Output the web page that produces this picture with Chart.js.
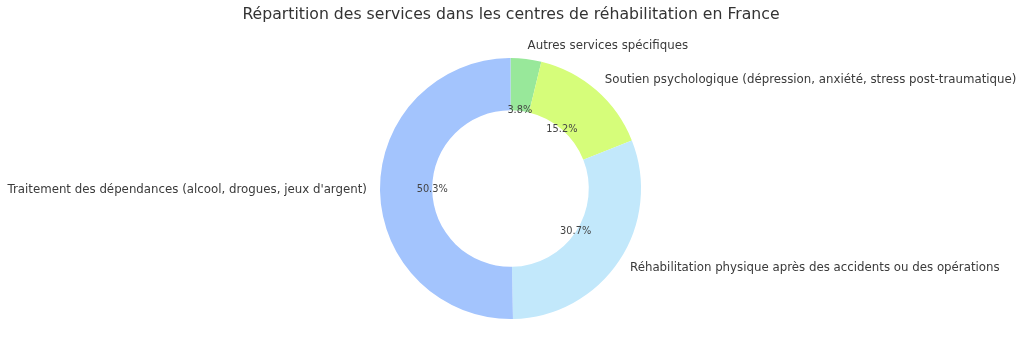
<!DOCTYPE html>
<html>
<head>
<meta charset="utf-8">
<script src="https://cdn.jsdelivr.net/npm/chart.js@4/dist/chart.umd.min.js"></script>
<style>
html,body{margin:0;padding:0;background:#fff;}
#wrap{width:1024px;height:359px;position:relative;}
</style>
</head>
<body>
<div id="wrap"><canvas id="c" width="1024" height="359"></canvas></div>
<script>
const title = "Répartition des services dans les centres de réhabilitation en France";
const categories = [
  "Autres services spécifiques",
  "Soutien psychologique (dépression, anxiété, stress post-traumatique)",
  "Réhabilitation physique après des accidents ou des opérations",
  "Traitement des dépendances (alcool, drogues, jeux d'argent)"
];
const values = [3.8, 15.2, 30.7, 50.3];
const colors = ["#98e89a", "#d6fd7a", "#c2e8fb", "#a3c4fd"];

const FONT = "'DejaVu Sans', sans-serif";

const labelPlugin = {
  id: 'labelPlugin',
  afterDraw(chart) {
    const ctx = chart.ctx;
    const meta = chart.getDatasetMeta(0);
    ctx.save();
    // title
    ctx.fillStyle = '#333333';
    ctx.font = '15.7px ' + FONT;
    ctx.textAlign = 'center';
    ctx.textBaseline = 'middle';
    ctx.fillText(title, 511, 15);
    const total = values.reduce((a, b) => a + b, 0);
    meta.data.forEach((arc, i) => {
      const p = arc.getProps(['x', 'y', 'startAngle', 'endAngle', 'outerRadius', 'innerRadius'], true);
      const mid = (p.startAngle + p.endAngle) / 2;
      const cx = Math.cos(mid), cy = Math.sin(mid);
      // outer label
      const lr = p.outerRadius * 1.1;
      ctx.font = '11.8px ' + FONT;
      ctx.fillStyle = '#3a3a3a';
      ctx.textBaseline = 'middle';
      ctx.textAlign = cx >= 0 ? 'left' : 'right';
      ctx.fillText(categories[i], p.x + cx * lr, p.y + cy * lr);
      // pct
      const pr = p.outerRadius * 0.6;
      ctx.font = '9.8px ' + FONT;
      ctx.textAlign = 'center';
      ctx.fillStyle = '#444444';
      const pct = (values[i] / total * 100).toFixed(1) + '%';
      ctx.fillText(pct, p.x + cx * pr, p.y + cy * pr);
    });
    ctx.restore();
  }
};

new Chart(document.getElementById('c'), {
  type: 'doughnut',
  data: {
    labels: categories,
    datasets: [{
      data: values,
      backgroundColor: colors,
      borderWidth: 0
    }]
  },
  options: {
    responsive: false,
    animation: false,
    cutout: '60%',
    layout: { padding: { top: 58, bottom: 40, left: 380, right: 383 } },
    plugins: {
      legend: { display: false },
      title: { display: false },
      tooltip: { enabled: false }
    }
  },
  plugins: [labelPlugin]
});
</script>
</body>
</html>
